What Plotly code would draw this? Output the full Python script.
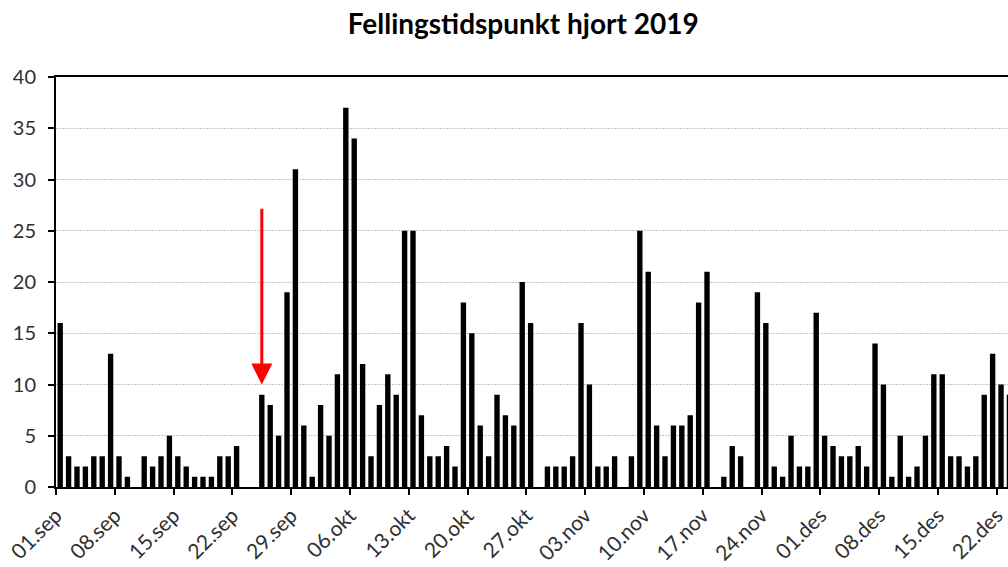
import pandas as pd
import plotly.graph_objects as go

# daily harvest counts, 01.sep 2019 onwards
start_date = "2019-09-01"
kills = [16, 3, 2, 2, 3, 3, 13, 3, 1, 0,
         3, 2, 3, 5, 3, 2, 1, 1, 1, 3,
         3, 4, 0, 0, 9, 8, 5, 19, 31, 6,
         1, 8, 5, 11, 37, 34, 12, 3, 8, 11,
         9, 25, 25, 7, 3, 3, 4, 2, 18, 15,
         6, 3, 9, 7, 6, 20, 16, 0, 2, 2,
         2, 3, 16, 10, 2, 2, 3, 0, 3, 25,
         21, 6, 3, 6, 6, 7, 18, 21, 0, 1,
         4, 3, 0, 19, 16, 2, 1, 5, 2, 2,
         17, 5, 4, 3, 3, 4, 2, 14, 10, 1,
         5, 1, 2, 5, 11, 11, 3, 3, 2, 3,
         9, 13, 10, 9]
tick_labels = ["01.sep", "08.sep", "15.sep", "22.sep", "29.sep", "06.okt", "13.okt",
               "20.okt", "27.okt", "03.nov", "10.nov", "17.nov", "24.nov", "01.des",
               "08.des", "15.des", "22.des"]
title_text = "Fellingstidspunkt hjort 2019"

# arrow marking the start of the hunt (points at the 25.sep bar)
arrow_day = "2019-09-25"
arrow_tip, arrow_tail = 10, 27.3

days = pd.date_range(start_date, periods=len(kills), freq="D")
bar_x = days + pd.Timedelta(hours=12)  # bars sit between the day ticks
tick_vals = pd.date_range(start_date, periods=len(tick_labels), freq="7D")

_font = "Lato"
_grid = "#c4c4c4"

fig = go.Figure()
fig.add_trace(go.Bar(x=bar_x, y=kills,
                     marker=dict(color="black", line=dict(width=0)),
                     width=0.64 * 86400000,
                     showlegend=False))

x_end = pd.Timestamp(start_date) + pd.Timedelta(days=113.33)
arrow_x = pd.Timestamp(arrow_day) + pd.Timedelta(hours=12)

fig.update_layout(
    title=dict(text=f"<b>{title_text}</b>", x=0.519, xanchor="center",
               y=0.958, yanchor="middle", yref="container",
               font=dict(family=_font, size=28, color="black")),
    xaxis=dict(type="date", automargin=False,
               range=[pd.Timestamp(start_date), x_end],
               tickmode="array", tickvals=tick_vals, ticktext=tick_labels,
               tickangle=-45, ticklabeloverflow="allow",
               ticks="outside", ticklen=6, tickwidth=2, tickcolor="black",
               showline=True, linecolor="black", linewidth=2,
               mirror=True,
               showgrid=False, zeroline=False,
               tickfont=dict(family=_font, size=21, color="#303030")),
    yaxis=dict(range=[0, 40], dtick=5, automargin=False,
               ticks="outside", ticklen=6, tickwidth=2, tickcolor="black",
               showline=True, linecolor="black", linewidth=2,
               showgrid=True, gridcolor=_grid, gridwidth=1, griddash="2px,1px",
               zeroline=False,
               ticklabelstandoff=8,
               tickfont=dict(family=_font, size=20, color="#303030")),
    bargap=0.36,
    margin=dict(l=56, r=0, t=77, b=80),
    width=1008, height=567,
    paper_bgcolor="white", plot_bgcolor="white",
    annotations=[dict(x=arrow_x, y=arrow_tip, ax=arrow_x, ay=arrow_tail,
                      xref="x", yref="y", axref="x", ayref="y",
                      text="", showarrow=True,
                      arrowhead=2, arrowsize=1.4, arrowwidth=3,
                      arrowcolor="#ff0000", standoff=0)],
)

# page body has a default 8px margin; drop it so the figure fills the window
fig.write_html("out.html", config={"displayModeBar": False},
               post_script="document.body.style.margin='0';")
